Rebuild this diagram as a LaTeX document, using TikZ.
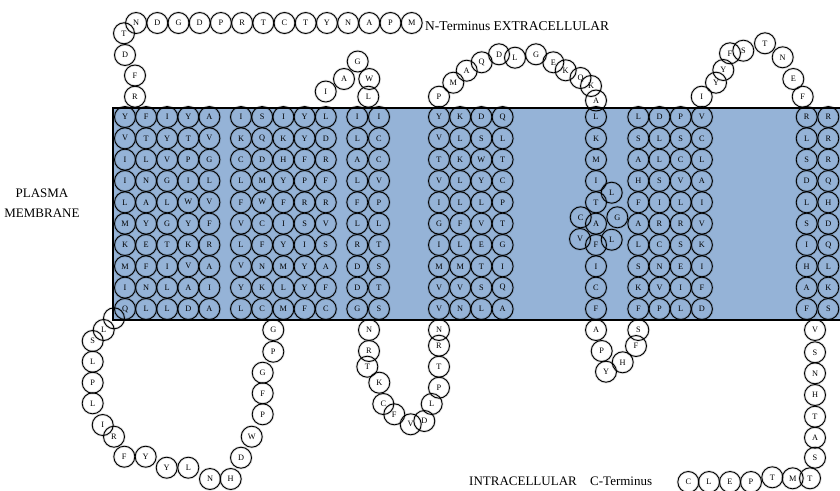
\documentclass[tikz,border=0pt]{standalone}
\usepackage{fontspec}
\setmainfont{Liberation Serif}
\definecolor{memb}{RGB}{149,179,215}
\newcommand\helixcol[3]{%
  \foreach \l [count=\i] in {#3} {\node[aa] (#1-\i) at (#2,{117+21.33*(\i-1)}) {\l};}}
\newcommand\loopseq[2]{%
  \foreach \px/\py/\l [count=\i] in {#2} {\node[aa] (#1-\i) at (\px,\py) {\l};}}
\begin{document}
\begin{tikzpicture}[x=1pt,y=-1pt,
  aa/.style={circle,draw=black,line width=0.9pt,minimum size=21pt,inner sep=0pt,
    font=\fontsize{8.3}{9}\selectfont,
    preaction={draw=black,line width=2.6pt,opacity=0.12}},
  lab/.style={font=\fontsize{13}{20}\selectfont,inner sep=0pt}]
\useasboundingbox (0,0) rectangle (840,490);
% membrane
\fill[memb] (113,108) rectangle (860,320);
\draw[line width=2.2pt] (860,108) -| (113,320) -- (860,320);
% TM1
\helixcol{tmA1}{125}{Y,V,I,I,L,M,K,M,I,Q}
\helixcol{tmA2}{146.1}{F,T,L,N,A,Y,E,F,N,L}
\helixcol{tmA3}{167.2}{I,Y,V,G,L,G,T,I,L,L}
\helixcol{tmA4}{188.3}{Y,T,P,I,W,Y,K,V,A,D}
\helixcol{tmA5}{209.4}{A,V,G,L,V,F,R,A,I,A}
% TM2
\helixcol{tmB1}{241}{I,K,C,L,F,V,L,V,Y,L}
\helixcol{tmB2}{262.2}{S,Q,D,M,W,C,F,N,K,C}
\helixcol{tmB3}{283.4}{I,K,H,Y,F,I,Y,M,L,M}
\helixcol{tmB4}{304.6}{Y,Y,F,P,R,S,I,Y,Y,F}
\helixcol{tmB5}{325.8}{L,D,R,F,R,V,S,A,F,C}
% TM3
\helixcol{tmC1}{357.3}{I,L,A,L,F,L,R,D,D,G}
\helixcol{tmC2}{379}{I,C,C,V,P,L,T,S,T,S}
% TM4
\helixcol{tmD1}{439}{Y,V,T,V,I,G,I,M,V,V}
\helixcol{tmD2}{460.2}{K,L,K,L,L,F,L,M,V,N}
\helixcol{tmD3}{481.4}{D,S,W,Y,L,V,E,T,S,L}
\helixcol{tmD4}{502.6}{Q,L,T,C,P,T,G,I,Q,A}
% TM5
\helixcol{tmE1}{596}{L,K,M,I,T,A,F,I,C,F}
\loopseq{tmEx}{611.7/192.7/L, 580.7/217.3/C, 617.3/217.3/G, 580/239/V, 611.7/239.7/L}
% TM6
\helixcol{tmF1}{638.3}{L,S,A,H,F,A,L,S,K,F}
\helixcol{tmF2}{659.5}{D,L,L,S,I,R,C,N,V,P}
\helixcol{tmF3}{680.7}{P,S,C,V,L,R,S,E,I,L}
\helixcol{tmF4}{701.9}{V,C,L,A,I,V,K,I,F,D}
% TM7
\helixcol{tmG1}{806.7}{R,L,S,D,L,S,I,H,A,F}
\helixcol{tmG2}{828.3}{R,R,R,Q,H,D,Q,L,K,S}
% N-terminus
\loopseq{nt}{411.7/23/M, 390.5/23/P, 369.3/23/A, 348.1/23/N, 326.9/23/Y, 305.7/23/T,
  284.5/23/C, 263.3/23/T, 242.1/23/R, 220.9/23/P, 199.7/23/D, 178.5/23/G, 157.3/23/D,
  136.1/23/N, 124/33.3/T, 125/55/D, 135/75.5/F, 135/96.7/R}
% ICL1
\node[aa] (icl1-0) at (114,318.3) {};
\loopseq{icl1}{103.7/330/L, 92.7/341/S, 92.7/361.7/L, 92.7/382.7/P, 92.7/403.3/L,
  102.7/425/I, 114/436.7/R, 124.3/456.7/F, 145.7/456.7/Y, 166.7/467.7/Y, 188.3/467.7/L,
  210/479/N, 230.7/479/H, 241/457.7/D, 251.7/436.7/W, 262.7/414.3/P, 262.7/393.3/F,
  262.7/372.7/G, 273.3/351.7/P, 273.3/330/G}
% ECL1
\loopseq{ecl1}{325.7/91.5/I, 344/79/A, 357.7/61.5/G, 369.3/79/W, 368.3/96.7/L}
% ICL2
\loopseq{icl2}{369/330/N, 369/351/R, 367.3/366.7/T, 379.3/382.7/K, 383.3/404/C,
  394.3/414.3/F, 410.7/424.3/V, 424.3/421/D, 431.7/404/L, 439/387.7/P, 439/366.7/T,
  439/345.7/R, 439/330/N}
% ECL2
\loopseq{ecl2}{439/96.7/P, 453.3/82.7/M, 466.7/70.7/A, 481.7/62.3/Q, 499/54.3/D,
  515/57.7/L, 536/54.3/G, 553.3/62.3/E, 565.7/70.3/K, 580.5/78/Q, 591/86/K, 596/100.5/A}
% ICL3
\loopseq{icl3}{596/330/A, 601.7/351/P, 606/371.7/Y, 622.7/362.3/H, 636/346/F, 638.3/330/S}
% ECL3
\loopseq{ecl3}{701.7/96.7/I, 716/82.7/Y, 723.3/70/Y, 730/53.3/F, 743.3/50.7/S,
  765/43.3/T, 782.7/57.3/N, 793.3/79/E, 802.7/96.7/F}
% C-terminus
\loopseq{ct}{815/330/V, 815/352.3/S, 815/373.3/N, 815/395/H, 815/416.7/T, 815/437.7/A,
  815/457.7/S, 810/478.3/T, 792.7/478.3/M, 772.3/477.3/T, 751/482/P, 730/482/E,
  709/482/L, 688.3/482/C}
% labels
\node[lab,anchor=base west,font=\fontsize{13.5}{16}\selectfont] (ntlab) at (425,30) {N-Terminus EXTRACELLULAR};
\node[lab,align=center] (pmlab) at (42,203) {PLASMA\\MEMBRANE};
\node[lab,anchor=base west] (iclab) at (469,485.7) {INTRACELLULAR};
\node[lab,anchor=base west] (ctlab) at (590,485.7) {C-Terminus};
\end{tikzpicture}
\end{document}
